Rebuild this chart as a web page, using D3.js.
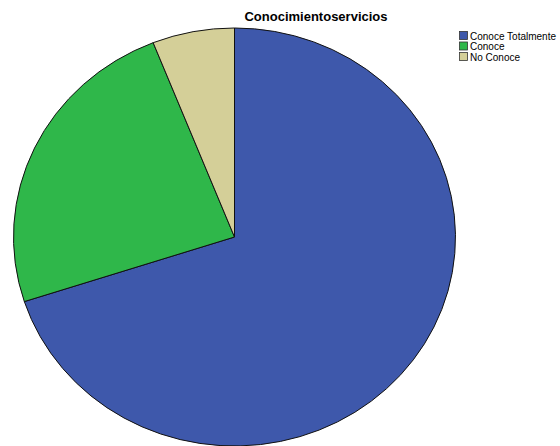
<!DOCTYPE html>
<html>
<head>
<meta charset="utf-8">
<script src="https://cdn.jsdelivr.net/npm/d3@7"></script>
<style>
  body { margin: 0; background: #fff; }
  svg { display: block; font-family: "Liberation Sans", Arial, sans-serif; }
</style>
</head>
<body>
<div class="canvas"></div>
<script>
// data
const categories = ['Conoce Totalmente', 'Conoce', 'No Conoce']
const counts = [35, 12, 3]
const colors = ['#3e58ab', '#2fb74a', '#d4cf98']

// dimensions
const dims = { width: 560, height: 446 }
const pieDims = { cx: 234.5, cy: 237, rx: 221, ry: 209 }

const svg = d3.select('.canvas')
    .append('svg')
    .attr('width', dims.width)
    .attr('height', dims.height)

// title
svg.append('text')
    .attr('x', 316)
    .attr('y', 21)
    .attr('text-anchor', 'middle')
    .attr('font-size', 13)
    .attr('font-weight', 'bold')
    .attr('fill', '#000')
    .text('Conocimientoservicios')

// pie
const data = categories.map((c, i) => ({ category: c, value: counts[i], color: colors[i] }))

const pie = d3.pie()
    .sort(null)
    .value(d => d.value)

const arc = d3.arc()
    .innerRadius(0)
    .outerRadius(pieDims.rx)

const graph = svg.append('g')
    .attr('transform', `translate(${pieDims.cx}, ${pieDims.cy}) scale(1, ${pieDims.ry / pieDims.rx})`)

graph.selectAll('path')
    .data(pie(data))
    .enter()
    .append('path')
    .attr('d', arc)
    .attr('fill', d => d.data.color)
    .attr('stroke', '#111')
    .attr('stroke-width', 1)
    .attr('vector-effect', 'non-scaling-stroke')

// legend
const legend = svg.append('g')
    .attr('transform', 'translate(459, 31)')

const items = legend.selectAll('g')
    .data(data)
    .enter()
    .append('g')
    .attr('transform', (d, i) => `translate(0, ${i * 10.5})`)

items.append('rect')
    .attr('x', 0.5)
    .attr('y', 0.5)
    .attr('width', 8)
    .attr('height', 8)
    .attr('fill', d => d.color)
    .attr('stroke', '#333')
    .attr('stroke-width', 0.8)

items.append('text')
    .attr('x', 11)
    .attr('y', 8.5)
    .attr('font-size', 10)
    .attr('fill', '#000')
    .text(d => d.category)
</script>
</body>
</html>
